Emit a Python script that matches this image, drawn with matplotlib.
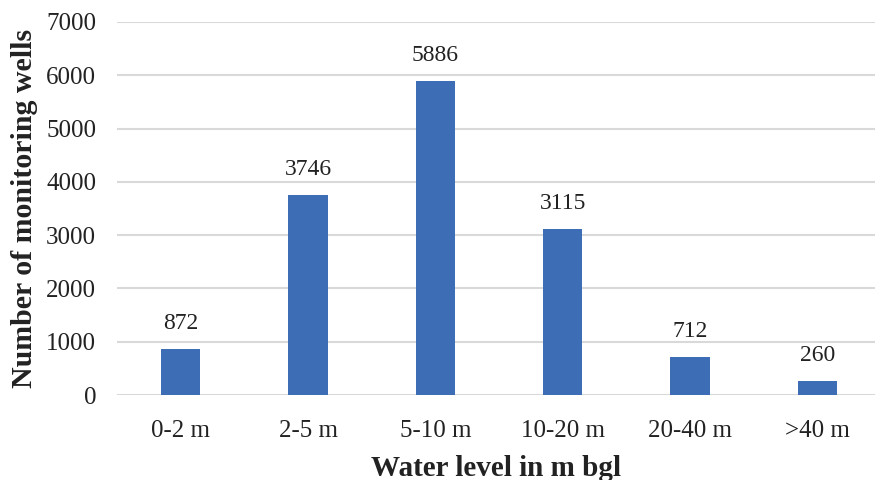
import matplotlib
matplotlib.use("Agg")
import matplotlib.pyplot as plt

categories = ["0-2 m", "2-5 m", "5-10 m", "10-20 m", "20-40 m", ">40 m"]
values = [872, 3746, 5886, 3115, 712, 260]
yticks = [0, 1000, 2000, 3000, 4000, 5000, 6000, 7000]

plt.rcParams['font.family'] = ['Liberation Serif', 'DejaVu Serif']

fig = plt.figure(figsize=(8.75, 4.8), dpi=100)
ax = fig.add_axes([117/875, 1-395/480, (875-117)/875, (395-22)/480])

x = list(range(len(categories)))
ax.bar(x, values, width=0.31, color="#3D6DB5", zorder=3)
for xi, v in zip(x, values):
    ax.text(xi, v + 280, str(v), ha="center", va="bottom", fontsize=17, color="#222222")

ax.set_ylim(0, 7000)
ax.set_xlim(-0.5, 5.5 - 6/127.3)
ax.set_yticks(yticks)
ax.set_xticks(x)
ax.set_xticklabels(categories)
ax.tick_params(axis="both", length=0, labelsize=18, colors="#222222")
ax.tick_params(axis="y", pad=15)
ax.tick_params(axis="x", pad=18)
ax.grid(axis="y", color="#D9D9D9", linewidth=1.5, zorder=0)
for s in ax.spines.values():
    s.set_visible(False)

ax.set_ylabel("Number of monitoring wells", fontsize=21.5, fontweight="bold", labelpad=6, color="#222222")
ax.set_xlabel("Water level in m bgl", fontsize=21, fontweight="bold", labelpad=9, color="#222222")

fig.savefig("out.png", dpi=100)
